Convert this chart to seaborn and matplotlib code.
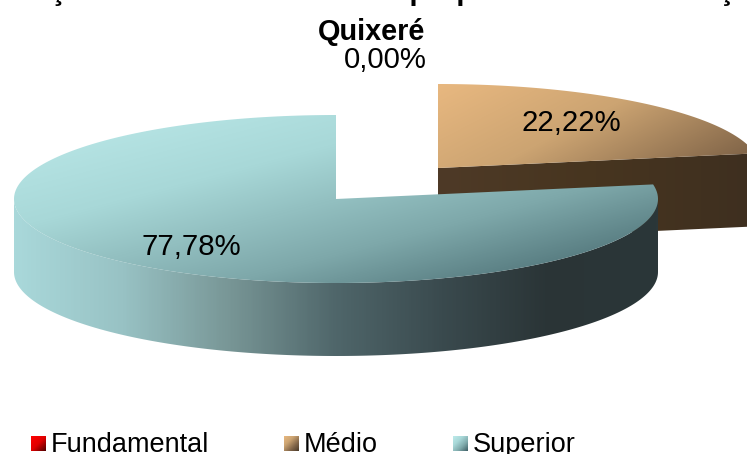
import numpy as np
import matplotlib
matplotlib.use("Agg")
import matplotlib.pyplot as plt
from matplotlib.patches import Polygon
import seaborn as sns

categories = ["Fundamental", "Médio", "Superior"]
shares = [0.0, 22.22, 77.78]
share_labels = ["0,00%", "22,22%", "77,78%"]
title_line1 = "Formações docentes do Ensino proporcional de formação"
title_line2 = "Quixeré"

sns.set_theme(style="white")
plt.rcParams["font.family"] = ["Liberation Sans", "DejaVu Sans"]

fig = plt.figure(figsize=(7.47, 4.54), dpi=100)
ax = fig.add_axes([0, 0, 1, 1])
ax.set_axis_off()

CX, CY, RX, RY, DEPTH = 336.0, 199.0, 322.0, 84.0, 73.0
EXPLODE = {"Médio": (102.0, -31.0), "Fundamental": (0.0, 0.0), "Superior": (0.0, 0.0)}

top_cmaps = {
    "Fundamental": sns.blend_palette(["#ff0000", "#e00000", "#500000"], as_cmap=True),
    "Médio": sns.blend_palette(["#e8b880", "#cca472", "#86694b", "#4a3a2a"], as_cmap=True),
    "Superior": sns.blend_palette(["#bdeaea", "#a8d8d8", "#7ea8aa", "#3f6066"], as_cmap=True),
}
wall_cmaps = {
    "Médio": sns.blend_palette(["#4e3a27", "#47351f", "#3e2f20"], as_cmap=True),
    "Superior": sns.blend_palette(["#a9d8da", "#98c2c4", "#789696", "#4f666a",
                                   "#3a4a4e", "#2a3436", "#2b3739"], as_cmap=True),
}


def point(theta, center):
    return center[0] + RX * np.sin(theta), center[1] - RY * np.cos(theta)


def gradient(patch, cmap, box, tilt):
    n = 200
    x, y = np.meshgrid(np.linspace(0, 1, n), np.linspace(0, 1, n))
    z = (x + tilt * y) / (1 + tilt)
    im = ax.imshow(z, cmap=cmap, extent=(box[0], box[1], box[3], box[2]), origin="upper",
                   aspect="auto", vmin=0, vmax=1, zorder=patch.get_zorder(), interpolation="bilinear")
    ax.add_patch(patch)
    patch.set_facecolor("none")
    patch.set_edgecolor("none")
    im.set_clip_path(patch)


start = 0.0
z = 1
arcs = {}
for name, share in zip(categories, shares):
    sweep = 2 * np.pi * share / 100
    arcs[name] = (start, start + sweep)
    start += sweep

for name in ["Médio", "Superior"]:
    a0, a1 = arcs[name]
    dx, dy = EXPLODE[name]
    c = (CX + dx, CY + dy)
    th = np.linspace(a0, a1, 240)
    px, py = point(th, c)
    if name == "Médio":
        ex, ey = point(a1, c)
        wall = np.array([c, (ex, ey), (ex, ey + DEPTH), (c[0], c[1] + DEPTH)])
        box = (c[0], ex, c[1] - 20, c[1] + DEPTH)
    else:
        t = np.linspace(max(a0, np.pi / 2), min(a1, 1.5 * np.pi), 200)
        wx, wy = point(t, c)
        wall = np.vstack([np.column_stack([wx, wy]), np.column_stack([wx[::-1], wy[::-1] + DEPTH])])
        box = (c[0] - RX, c[0] + RX, c[1], c[1] + RY + DEPTH)
    gradient(Polygon(wall, closed=True, zorder=z), wall_cmaps[name], box, 0.0)
    z += 1
    face = np.vstack([[c], np.column_stack([px, py])])
    box = (c[0] - RX if name == "Superior" else c[0], c[0] + RX, c[1] - RY, c[1] + RY)
    gradient(Polygon(face, closed=True, zorder=z), top_cmaps[name], box, 1.0)
    z += 1

ax.text(-39, 0, title_line1, fontsize=21, fontweight="bold", ha="left", va="baseline", color="black", zorder=20)
ax.text(372, 32, title_line2, fontsize=20.8, fontweight="bold", ha="center", va="center", color="black", zorder=20)

label_pos = [(385, 60), (571, 123), (191, 247)]
for lab, (x, y) in zip(share_labels, label_pos):
    ax.text(x, y, lab, fontsize=21.2, ha="center", va="center", color="black", zorder=20)

legend_x = [31, 284, 453]
for name, x in zip(categories, legend_x):
    n = 40
    gx, gy = np.meshgrid(np.linspace(0, 1, n), np.linspace(0, 1, n))
    ax.imshow((gx + gy) / 2, cmap=top_cmaps[name], extent=(x, x + 15, 451, 436), aspect="auto",
              vmin=0, vmax=1, zorder=20)
    ax.text(x + 20, 445, name, fontsize=19.5, ha="left", va="center", color="black", zorder=20)

ax.set_xlim(0, 747)
ax.set_ylim(454, 0)
fig.savefig("out.png", dpi=100)
